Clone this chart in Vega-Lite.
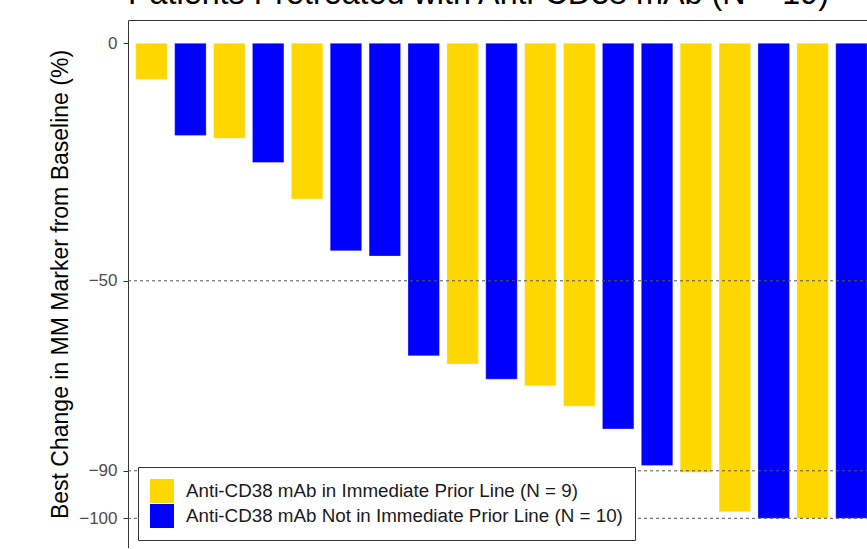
{
  "$schema": "https://vega.github.io/schema/vega-lite/v6.json",
  "autosize": {"type": "none"},
  "padding": {"left": 128, "top": 20, "right": 0, "bottom": 0},
  "width": 747,
  "height": 528,
  "background": "white",
  "title": {
    "text": "Patients Pretreated with Anti-CD38 mAb (N = 19)",
    "font": "Liberation Sans",
    "fontSize": 32.3,
    "fontWeight": "normal",
    "color": "#000000",
    "anchor": "middle",
    "baseline": "alphabetic",
    "offset": 0,
    "dy": 16,
    "dx": -23
  },
  "config": {
    "view": {"stroke": "#333333", "strokeWidth": 1},
    "font": "Liberation Sans"
  },
  "datasets": {
    "bars": [
      {"patient": 1, "change": -7.6, "group": "Anti-CD38 mAb in Immediate Prior Line (N = 9)"},
      {"patient": 2, "change": -19.4, "group": "Anti-CD38 mAb Not in Immediate Prior Line (N = 10)"},
      {"patient": 3, "change": -20.0, "group": "Anti-CD38 mAb in Immediate Prior Line (N = 9)"},
      {"patient": 4, "change": -25.1, "group": "Anti-CD38 mAb Not in Immediate Prior Line (N = 10)"},
      {"patient": 5, "change": -32.8, "group": "Anti-CD38 mAb in Immediate Prior Line (N = 9)"},
      {"patient": 6, "change": -43.7, "group": "Anti-CD38 mAb Not in Immediate Prior Line (N = 10)"},
      {"patient": 7, "change": -44.8, "group": "Anti-CD38 mAb Not in Immediate Prior Line (N = 10)"},
      {"patient": 8, "change": -65.8, "group": "Anti-CD38 mAb Not in Immediate Prior Line (N = 10)"},
      {"patient": 9, "change": -67.5, "group": "Anti-CD38 mAb in Immediate Prior Line (N = 9)"},
      {"patient": 10, "change": -70.7, "group": "Anti-CD38 mAb Not in Immediate Prior Line (N = 10)"},
      {"patient": 11, "change": -72.1, "group": "Anti-CD38 mAb in Immediate Prior Line (N = 9)"},
      {"patient": 12, "change": -76.4, "group": "Anti-CD38 mAb in Immediate Prior Line (N = 9)"},
      {"patient": 13, "change": -81.2, "group": "Anti-CD38 mAb Not in Immediate Prior Line (N = 10)"},
      {"patient": 14, "change": -88.9, "group": "Anti-CD38 mAb Not in Immediate Prior Line (N = 10)"},
      {"patient": 15, "change": -90.3, "group": "Anti-CD38 mAb in Immediate Prior Line (N = 9)"},
      {"patient": 16, "change": -98.6, "group": "Anti-CD38 mAb in Immediate Prior Line (N = 9)"},
      {"patient": 17, "change": -100, "group": "Anti-CD38 mAb Not in Immediate Prior Line (N = 10)"},
      {"patient": 18, "change": -100, "group": "Anti-CD38 mAb in Immediate Prior Line (N = 9)"},
      {"patient": 19, "change": -100, "group": "Anti-CD38 mAb Not in Immediate Prior Line (N = 10)"}
    ],
    "refs": [
      {"level": -50},
      {"level": -90},
      {"level": -100}
    ]
  },
  "layer": [
    {
      "data": {"name": "bars"},
      "mark": {"type": "bar", "stroke": "white", "strokeWidth": 0.5, "strokeOpacity": 0.6},
      "encoding": {
        "x": {
          "field": "patient",
          "type": "ordinal",
          "sort": null,
          "axis": null,
          "scale": {"paddingInner": 0.19, "paddingOuter": 0.2}
        },
        "y": {
          "field": "change",
          "type": "quantitative",
          "scale": {"domain": [-106.25, 4.9], "nice": false, "zero": false},
          "axis": {
            "values": [0, -50, -90, -100],
            "title": "Best Change in MM Marker from Baseline (%)",
            "grid": false,
            "domain": false,
            "ticks": true,
            "tickColor": "#333333",
            "tickSize": 5,
            "labelColor": "#4d4d4d",
            "labelFontSize": 17,
            "labelFont": "Liberation Sans",
            "labelPadding": 6,
            "titleFont": "Liberation Sans",
            "titleFontSize": 23,
            "titleFontWeight": "normal",
            "titleColor": "#000000",
            "titlePadding": 6
          }
        },
        "y2": {"datum": 0},
        "color": {
          "field": "group",
          "type": "nominal",
          "scale": {
            "domain": ["Anti-CD38 mAb in Immediate Prior Line (N = 9)", "Anti-CD38 mAb Not in Immediate Prior Line (N = 10)"],
            "range": ["#FFD700", "#0000FF"]
          },
          "legend": {
            "title": null,
            "orient": "none",
            "legendX": 10,
            "legendY": 447,
            "direction": "vertical",
            "symbolType": "square",
            "symbolSize": 576,
            "symbolStrokeWidth": 0,
            "symbolOpacity": 1,
            "labelFont": "Liberation Sans",
            "labelFontSize": 18.8,
            "labelColor": "#1a1a1a",
            "labelOffset": 12,
            "labelLimit": 0,
            "rowPadding": 1,
            "padding": 12,
            "strokeColor": "#333333",
            "fillColor": "white"
          }
        }
      }
    },
    {
      "data": {"name": "refs"},
      "mark": {"type": "rule", "strokeDash": [3, 3], "color": "#555555", "strokeWidth": 1},
      "encoding": {
        "y": {"field": "level", "type": "quantitative"}
      }
    }
  ]
}
